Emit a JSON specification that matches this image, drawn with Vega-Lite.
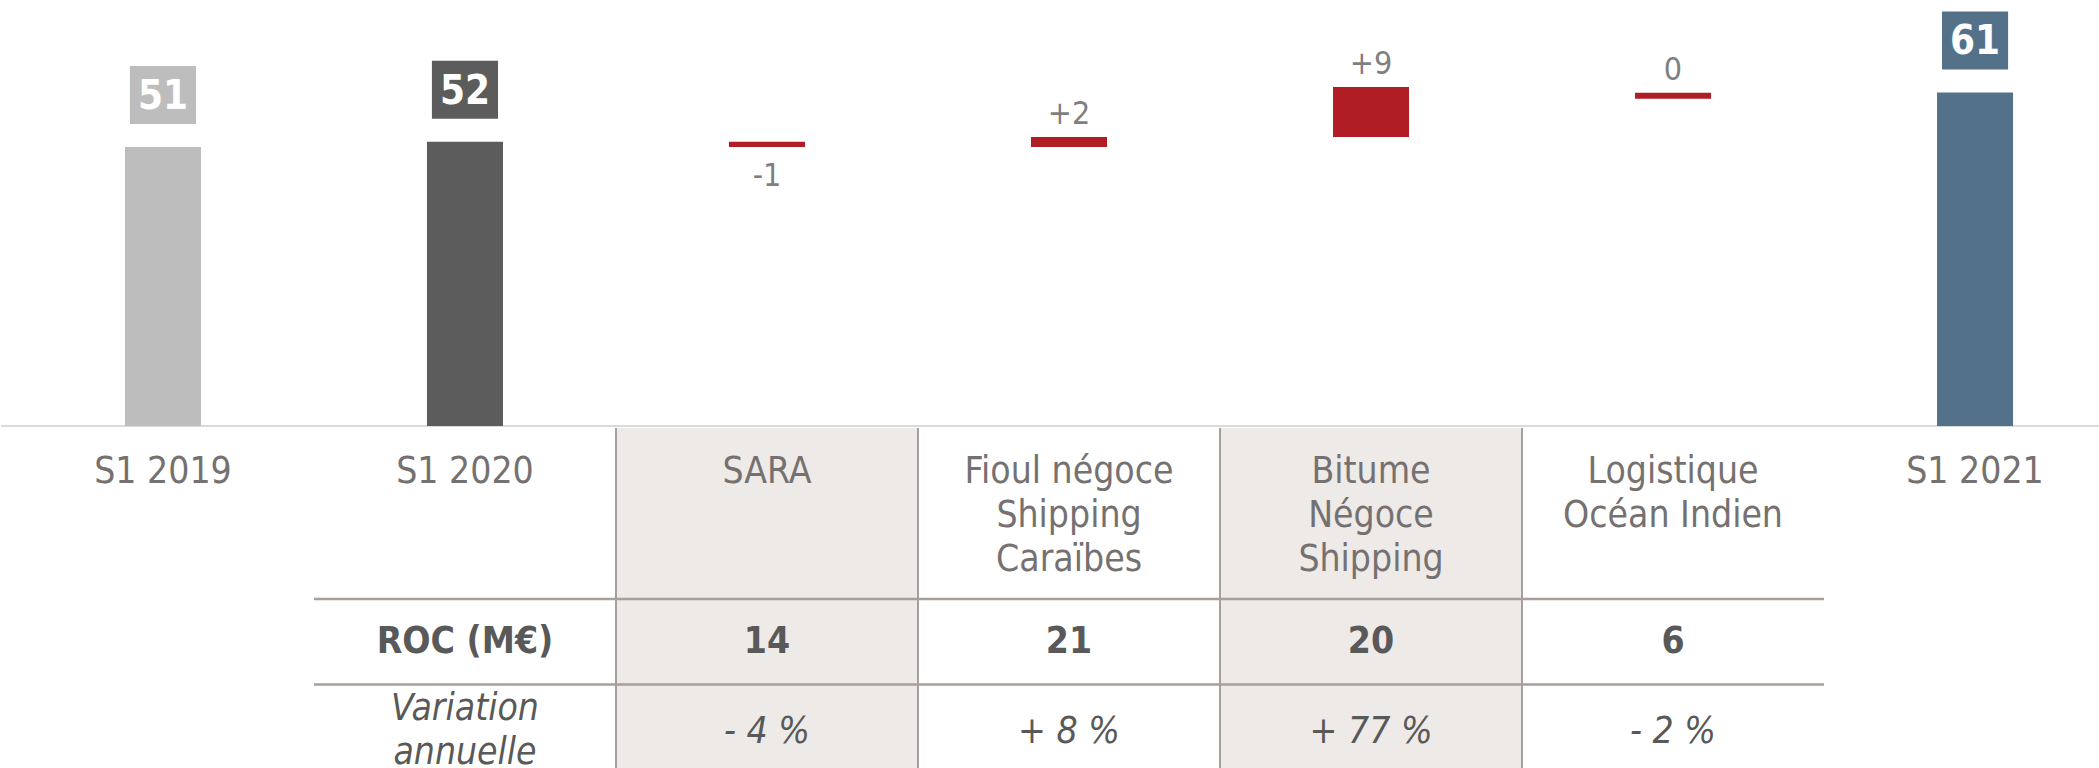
{
  "$schema": "https://vega.github.io/schema/vega-lite/v6.json",
  "padding": 0,
  "spacing": 0,
  "background": "white",
  "config": {"view": {"stroke": null}, "font": "DejaVu Sans Condensed, Liberation Sans"},
  "datasets": {
    "bars": [
      {"cat": "S1 2019", "kind": "total", "lo": 0, "hi": 51, "label": "51"},
      {"cat": "S1 2020", "kind": "total", "lo": 0, "hi": 52, "label": "52"},
      {"cat": "SARA", "kind": "down", "lo": 51, "hi": 52, "label": "-1"},
      {"cat": "Fioul", "kind": "up", "lo": 51, "hi": 52.85, "label": "+2"},
      {"cat": "Bitume", "kind": "up", "lo": 52.85, "hi": 62.0, "label": "+9"},
      {"cat": "Logistique", "kind": "up", "lo": 59.85, "hi": 60.95, "label": "0"},
      {"cat": "S1 2021", "kind": "total", "lo": 0, "hi": 61, "label": "61"}
    ],
    "table": [
      {"cat": "S1 2019", "header": "S1 2019", "roc": "", "var": "", "rowlabel": "", "shade": false, "vline": false, "hline": false},
      {"cat": "S1 2020", "header": "S1 2020", "roc": "ROC (M€)", "var": "", "rowlabel": "Variation\nannuelle", "shade": false, "vline": false, "hline": true},
      {"cat": "SARA", "header": "SARA", "roc": "14", "var": "- 4 %", "rowlabel": "", "shade": true, "vline": true, "hline": true},
      {"cat": "Fioul", "header": "Fioul négoce\nShipping\nCaraïbes", "roc": "21", "var": "+ 8 %", "rowlabel": "", "shade": false, "vline": true, "hline": true},
      {"cat": "Bitume", "header": "Bitume\nNégoce\nShipping", "roc": "20", "var": "+ 77 %", "rowlabel": "", "shade": true, "vline": true, "hline": true},
      {"cat": "Logistique", "header": "Logistique\nOcéan Indien", "roc": "6", "var": "- 2 %", "rowlabel": "", "shade": false, "vline": true, "hline": true},
      {"cat": "S1 2021", "header": "S1 2021", "roc": "", "var": "", "rowlabel": "", "shade": false, "vline": false, "hline": false}
    ]
  },
  "vconcat": [
    {
      "width": 2099,
      "height": 426,
      "data": {"name": "bars"},
      "encoding": {
        "x": {
          "field": "cat", "type": "nominal", "axis": null,
          "scale": {
            "domain": ["S1 2019", "S1 2020", "SARA", "Fioul", "Bitume", "Logistique", "S1 2021"],
            "range": [11, 2125], "paddingInner": 0.7483, "paddingOuter": 0.374
          }
        }
      },
      "layer": [
        {
          "mark": {"type": "rule", "color": "#DADADA", "strokeWidth": 2},
          "encoding": {"x": null, "y": {"datum": 0, "type": "quantitative", "scale": {"domain": [0, 77.9], "nice": false, "zero": false}, "axis": null}}
        },
        {
          "mark": {"type": "bar"},
          "encoding": {
            "y": {"field": "lo", "type": "quantitative", "scale": {"domain": [0, 77.9], "nice": false, "zero": false}, "axis": null},
            "y2": {"field": "hi"},
            "color": {
              "field": "cat", "type": "nominal", "legend": null,
              "scale": {
                "domain": ["S1 2019", "S1 2020", "SARA", "Fioul", "Bitume", "Logistique", "S1 2021"],
                "range": ["#BDBDBD", "#5C5C5C", "#B11D24", "#B11D24", "#B11D24", "#B11D24", "#53728A"]
              }
            }
          }
        },
        {
          "transform": [{"filter": "datum.kind == 'total'"}],
          "mark": {"type": "point", "shape": "M-1.14,-1H1.14V1H-1.14Z", "size": 3364, "filled": true, "opacity": 1, "strokeWidth": 0, "yOffset": -52},
          "encoding": {
            "y": {"field": "hi", "type": "quantitative"},
            "color": {"field": "cat", "type": "nominal", "legend": null}
          }
        },
        {
          "transform": [{"filter": "datum.kind == 'total'"}],
          "mark": {"type": "text", "fontSize": 40, "fontWeight": "bold", "color": "white", "baseline": "middle", "yOffset": -50},
          "encoding": {
            "y": {"field": "hi", "type": "quantitative"},
            "text": {"field": "label"}
          }
        },
        {
          "transform": [{"filter": "datum.kind == 'up'"}],
          "mark": {"type": "text", "fontSize": 32, "color": "#7F7F7F", "baseline": "alphabetic", "dy": -13},
          "encoding": {
            "y": {"field": "hi", "type": "quantitative"},
            "text": {"field": "label"}
          }
        },
        {
          "transform": [{"filter": "datum.kind == 'down'"}],
          "mark": {"type": "text", "fontSize": 32, "color": "#7F7F7F", "baseline": "top", "dy": 14},
          "encoding": {
            "y": {"field": "lo", "type": "quantitative"},
            "text": {"field": "label"}
          }
        }
      ]
    },
    {
      "width": 2099,
      "height": 342,
      "data": {"name": "table"},
      "encoding": {
        "x": {
          "field": "cat", "type": "nominal", "axis": null,
          "scale": {
            "domain": ["S1 2019", "S1 2020", "SARA", "Fioul", "Bitume", "Logistique", "S1 2021"],
            "range": [11, 2125], "paddingInner": 0, "paddingOuter": 0
          }
        }
      },
      "layer": [
        {
          "transform": [{"filter": "datum.shade"}],
          "mark": {"type": "bar", "color": "#EDEAE8"},
          "encoding": {
            "y": {"datum": 0, "type": "quantitative", "scale": {"domain": [0, 4], "reverse": true, "nice": false, "zero": false}, "axis": null},
            "y2": {"datum": 4}
          }
        },
        {
          "transform": [{"filter": "datum.vline"}],
          "mark": {"type": "rule", "color": "#A89E9A", "strokeWidth": 2},
          "encoding": {
            "x": {"field": "cat", "type": "nominal", "bandPosition": 0},
            "y": {"datum": 0, "type": "quantitative"},
            "y2": {"datum": 4}
          }
        },
        {
          "transform": [{"filter": "datum.hline"}],
          "mark": {"type": "bar", "color": "#A89E9A"},
          "encoding": {
            "y": {"datum": 1.985, "type": "quantitative"},
            "y2": {"datum": 2.015}
          }
        },
        {
          "transform": [{"filter": "datum.hline"}],
          "mark": {"type": "bar", "color": "#A89E9A"},
          "encoding": {
            "y": {"datum": 2.985, "type": "quantitative"},
            "y2": {"datum": 3.015}
          }
        },
        {
          "mark": {"type": "text", "fontSize": 37, "color": "#767171", "baseline": "top", "lineBreak": "\n", "lineHeight": 44, "dy": 26},
          "encoding": {
            "y": {"datum": 0, "type": "quantitative"},
            "text": {"field": "header"}
          }
        },
        {
          "mark": {"type": "text", "fontSize": 37, "fontWeight": "bold", "color": "#595959", "baseline": "middle"},
          "encoding": {
            "y": {"datum": 2.5, "type": "quantitative"},
            "text": {"field": "roc"}
          }
        },
        {
          "mark": {"type": "text", "fontSize": 37, "fontStyle": "italic", "color": "#595959", "baseline": "middle"},
          "encoding": {
            "y": {"datum": 3.55, "type": "quantitative"},
            "text": {"field": "var"}
          }
        },
        {
          "mark": {"type": "text", "fontSize": 37, "fontStyle": "italic", "color": "#595959", "baseline": "middle", "lineBreak": "\n", "lineHeight": 44, "dy": -23},
          "encoding": {
            "y": {"datum": 3.55, "type": "quantitative"},
            "text": {"field": "rowlabel"}
          }
        }
      ]
    }
  ]
}
